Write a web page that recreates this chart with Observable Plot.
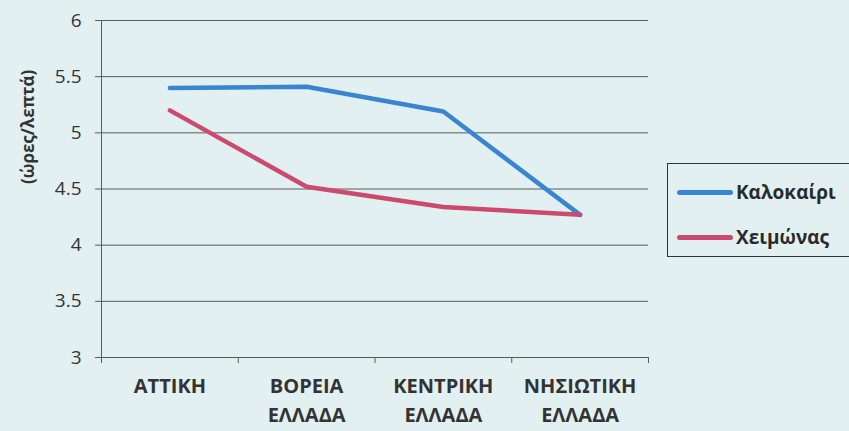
<!DOCTYPE html>
<html><head><meta charset="utf-8">
<script src="https://cdn.jsdelivr.net/npm/d3@7"></script>
<script src="https://cdn.jsdelivr.net/npm/@observablehq/plot@0.6"></script>
<style>
body{margin:0;background:#e3f0f2;}
#wrap{position:relative;width:849px;height:431px;overflow:hidden;background:#e3f0f2;}
#wrap svg{display:block;}
.legend{position:absolute;left:667px;top:163px;width:200px;height:94px;border:1px solid #333;box-sizing:border-box;font-family:"Open Sans",sans-serif;font-weight:700;font-size:19px;color:#2a2a2a;}
.item{position:absolute;left:9px;display:flex;align-items:center;height:24px;}
.swatch{width:56px;height:5px;border-radius:3px;margin-right:3px;}
</style>
</head><body>
<div id="wrap"></div>
<script>
const categories = ["ΑΤΤΙΚΗ", "ΒΟΡΕΙΑ\nΕΛΛΑΔΑ", "ΚΕΝΤΡΙΚΗ\nΕΛΛΑΔΑ", "ΝΗΣΙΩΤΙΚΗ\nΕΛΛΑΔΑ"];
const summer = [5.40, 5.41, 5.19, 4.27];
const winter = [5.20, 4.52, 4.34, 4.27];
const seriesNames = ["Καλοκαίρι", "Χειμώνας"];
const seriesColors = ["#3a85d2", "#cc4b6c"];
const yTicks = [3, 3.5, 4, 4.5, 5, 5.5, 6];
const yLabel = "(ώρες/λεπτά)";

const idx = d3.range(categories.length);
const bounds = d3.range(categories.length + 1).map(i => i - 0.5);

const chart = Plot.plot({
  width: 849,
  height: 431,
  marginLeft: 101,
  marginRight: 201,
  marginTop: 20,
  marginBottom: 74,
  style: {background: "transparent", fontFamily: "'Open Sans', sans-serif", color: "#333"},
  x: {type: "linear", domain: [-0.5, categories.length - 0.5]},
  y: {domain: [3, 6]},
  marks: [
    Plot.gridY(yTicks, {stroke: "#5a5a5a", strokeOpacity: 1, strokeWidth: 1}),
    Plot.ruleX([bounds[0]], {stroke: "#5a5a5a", strokeWidth: 1}),
    Plot.axisY(yTicks, {tickSize: 6, tickPadding: 14, fontSize: 19, stroke: "#5a5a5a", fill: "#333", tickFormat: d => String(d), label: null}),
    Plot.axisX(bounds, {tickSize: 6, tickFormat: () => "", stroke: "#5a5a5a", label: null}),
    Plot.axisX(idx, {tickSize: 0, tickPadding: 15, tickFormat: i => categories[i], fontSize: 20, fontWeight: "bold", lineHeight: 1.45, fill: "#333", label: null}),
    Plot.text([yLabel], {frameAnchor: "left", dx: -73, dy: -5, rotate: -90, text: d => d, fontSize: 17, fontWeight: "bold", fill: "#333"}),
    Plot.line(summer, {x: (d, i) => i, y: d => d, stroke: seriesColors[0], strokeWidth: 4.5, strokeLinecap: "round", strokeLinejoin: "round"}),
    Plot.line(winter, {x: (d, i) => i, y: d => d, stroke: seriesColors[1], strokeWidth: 4.5, strokeLinecap: "round", strokeLinejoin: "round"})
  ]
});
const wrap = document.getElementById("wrap");
wrap.appendChild(chart);

const legend = document.createElement("div");
legend.className = "legend";
seriesNames.forEach((name, i) => {
  const item = document.createElement("div");
  item.className = "item";
  item.style.top = (16 + i * 45) + "px";
  const sw = document.createElement("div");
  sw.className = "swatch";
  sw.style.background = seriesColors[i];
  const t = document.createElement("span");
  t.textContent = name;
  item.appendChild(sw);
  item.appendChild(t);
  legend.appendChild(item);
});
wrap.appendChild(legend);
</script>
</body></html>
